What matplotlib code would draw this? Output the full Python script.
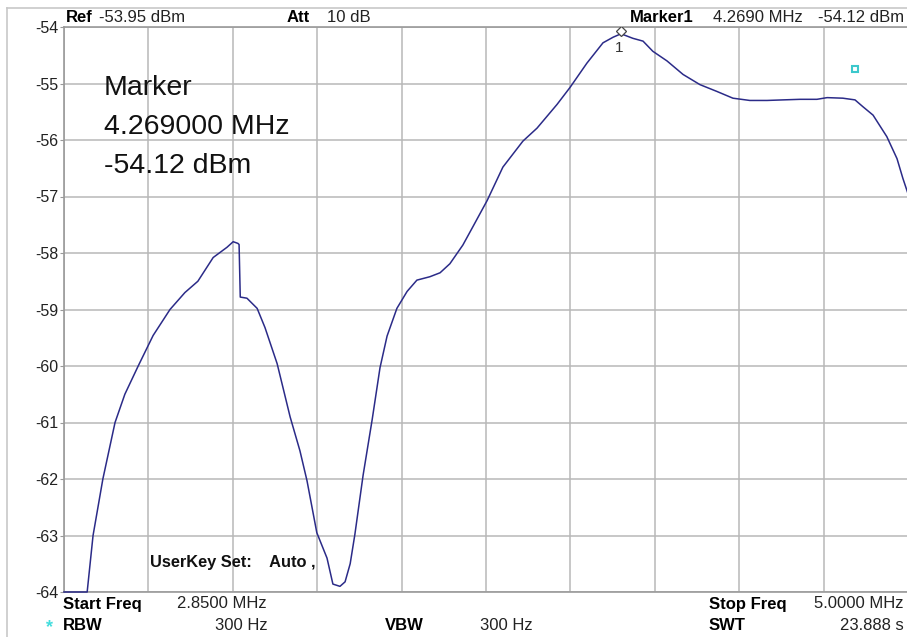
import numpy as np
import matplotlib.pyplot as plt
from matplotlib.lines import Line2D

plt.rcParams['font.family'] = ['Liberation Sans', 'DejaVu Sans']

# Trace: frequency (MHz) and level (dBm)
freq_mhz = [2.850, 2.909, 2.924, 2.949, 2.980, 3.005, 3.039, 3.077, 3.120, 3.158,
            3.191, 3.230, 3.265, 3.281, 3.293, 3.296, 3.299, 3.316, 3.342, 3.362,
            3.393, 3.426, 3.451, 3.469, 3.494, 3.520, 3.535, 3.553, 3.566, 3.579,
            3.591, 3.612, 3.635, 3.655, 3.673, 3.698, 3.724, 3.749, 3.782, 3.808,
            3.833, 3.866, 3.892, 3.928, 3.968, 4.019, 4.055, 4.106, 4.139, 4.182,
            4.223, 4.249, 4.269, 4.299, 4.325, 4.350, 4.386, 4.427, 4.470, 4.513,
            4.554, 4.597, 4.641, 4.682, 4.725, 4.768, 4.794, 4.834, 4.865, 4.885,
            4.911, 4.946, 4.972, 4.987, 5.000]
level_dbm = [-64.00, -64.00, -63.00, -62.00, -61.00, -60.50, -60.00, -59.46, -59.00, -58.70,
             -58.50, -58.08, -57.90, -57.80, -57.83, -57.85, -58.78, -58.80, -58.98, -59.32,
             -59.96, -60.90, -61.50, -62.03, -62.95, -63.40, -63.86, -63.90, -63.82, -63.50,
             -62.98, -61.93, -60.95, -60.03, -59.47, -58.98, -58.68, -58.48, -58.42, -58.35,
             -58.19, -57.86, -57.53, -57.07, -56.48, -56.02, -55.79, -55.37, -55.07, -54.64,
             -54.28, -54.18, -54.12, -54.20, -54.25, -54.43, -54.60, -54.84, -55.02, -55.14,
             -55.26, -55.30, -55.30, -55.29, -55.28, -55.28, -55.25, -55.26, -55.29, -55.41,
             -55.56, -55.94, -56.33, -56.68, -56.95]

y_ticks = list(range(-54, -65, -1))
start_freq = 2.85
stop_freq = 5.0
marker_freq = 4.269
marker_level = -54.12

W, H = 907, 637


def px(x, y):
    return x / W, 1 - y / H


fig = plt.figure(figsize=(W / 100, H / 100), dpi=100)
fig.patch.set_facecolor('white')

# plot area in pixels: left 64, top 27, right 908, bottom 592
ax = fig.add_axes([64 / W, 1 - 592 / H, 844 / W, 565 / H])
ax.set_xlim(start_freq, stop_freq)
ax.set_ylim(-64, -54)
ax.set_xticks(np.linspace(start_freq, stop_freq, 11))
ax.set_xticklabels([])
ax.set_yticks(y_ticks)
ax.set_yticklabels([str(t) for t in y_ticks], fontsize=11.5, color='#222222')
ax.tick_params(axis='y', length=3, color='#999999', pad=1)
ax.tick_params(axis='x', length=0)
ax.grid(True, color='#b8b8b8', linewidth=1.1)
ax.set_axisbelow(True)
for sp in ax.spines.values():
    sp.set_color('#9a9a9a')
    sp.set_linewidth(1.2)

ax.plot(freq_mhz, level_dbm, color='#2b2b88', linewidth=1.1, clip_on=False, zorder=3)

# marker 1
ax.plot([marker_freq], [marker_level + 0.05], marker='D', ms=5, mfc='white',
        mec='#444444', mew=0.9, zorder=4)
ax.text(marker_freq - 0.004, marker_level - 0.12, '1', fontsize=11, color='#333333',
        ha='center', va='top')

# small cyan icon in the upper right
ax.plot([(855 - 64) / 844], [(592 - 69) / 565], marker='s', ms=5, mfc='none',
        mec='#3cc8cc', mew=1.5, linestyle='none', transform=ax.transAxes)

# marker readout
for i, s in enumerate(['Marker', '%.6f MHz' % marker_freq, '%.2f dBm' % marker_level]):
    fig.text(*px(104, 88 + i * 39), s, fontsize=20.5, color='#111111', va='center')

fig.text(*px(150, 562), 'UserKey Set:    Auto ,', fontsize=11.8, fontweight='bold',
         color='#111111', va='center')

# header
hy = 18
fig.text(*px(66, hy), 'Ref', fontsize=12, fontweight='bold', va='center')
fig.text(*px(99, hy), '-53.95 dBm', fontsize=12, color='#222222', va='center')
fig.text(*px(287, hy), 'Att', fontsize=12, fontweight='bold', va='center')
fig.text(*px(327, hy), '10 dB', fontsize=12, color='#222222', va='center')
fig.text(*px(630, hy), 'Marker1', fontsize=12, fontweight='bold', va='center')
fig.text(*px(713, hy), '4.2690 MHz', fontsize=12, color='#222222', va='center')
fig.text(*px(904, hy), '-54.12 dBm', fontsize=12, color='#222222', va='center', ha='right')

# footer
fy1, fy2 = 604, 626
fig.text(*px(63, fy1), 'Start Freq', fontsize=12, fontweight='bold', va='center')
fig.text(*px(177, fy1), '2.8500 MHz', fontsize=12, color='#222222', va='center')
fig.text(*px(709, fy1), 'Stop Freq', fontsize=12, fontweight='bold', va='center')
fig.text(*px(904, fy1), '5.0000 MHz', fontsize=12, color='#222222', va='center', ha='right')
fig.text(*px(46, fy2 + 2), '*', fontsize=13, fontweight='bold', color='#44dddd', va='center')
fig.text(*px(63, fy2), 'RBW', fontsize=12, fontweight='bold', va='center')
fig.text(*px(268, fy2), '300 Hz', fontsize=12, color='#222222', va='center', ha='right')
fig.text(*px(385, fy2), 'VBW', fontsize=12, fontweight='bold', va='center')
fig.text(*px(533, fy2), '300 Hz', fontsize=12, color='#222222', va='center', ha='right')
fig.text(*px(709, fy2), 'SWT', fontsize=12, fontweight='bold', va='center')
fig.text(*px(904, fy2), '23.888 s', fontsize=12, color='#222222', va='center', ha='right')

# outer window frame
fig.add_artist(Line2D([7 / W, 7 / W], [0, 1 - 8 / H], color='#c8c8c8', lw=1.2))
fig.add_artist(Line2D([7 / W, 1], [1 - 8 / H, 1 - 8 / H], color='#c8c8c8', lw=1.2))

fig.savefig('out.png', dpi=100)
